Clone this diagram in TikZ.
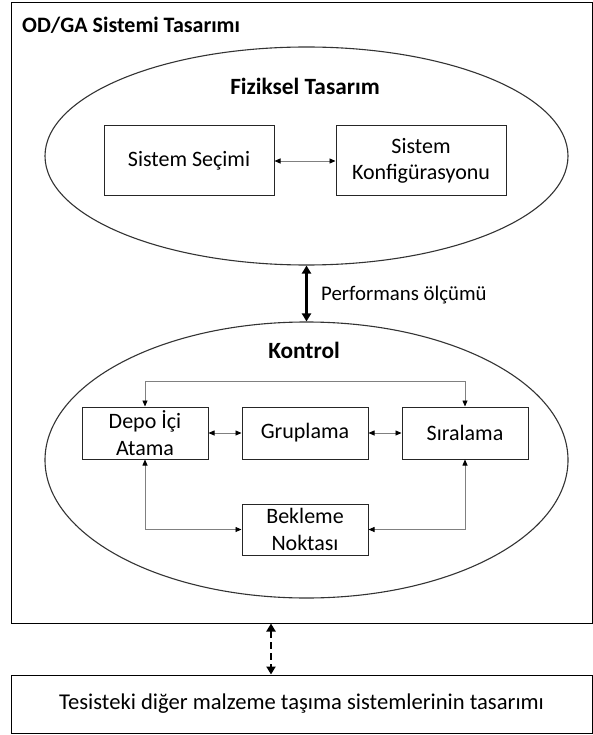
\documentclass[tikz,border=0pt]{standalone}
\usepackage{fontspec}
\setmainfont{Carlito}
\usetikzlibrary{shapes.geometric,arrows.meta,calc}
\tikzset{
  bx/.style={draw=black!85, line width=1pt, rectangle, minimum height=52pt, inner sep=1pt, align=center, font=\fontsize{22}{26.5}\selectfont},
  ell/.style={draw=black!80, line width=1.1pt, ellipse, inner sep=0pt, minimum width=523pt},
  conn/.style={draw=black!50, line width=0.8pt, {Triangle[length=6pt,width=5pt,fill=black,color=black]}-{Triangle[length=6pt,width=5pt,fill=black,color=black]}},
  bigarr/.style={line width=2.6pt, {Triangle[length=8pt,width=9pt]}-{Triangle[length=8pt,width=9pt]}},
  lbl/.style={inner sep=0pt, anchor=base},
  head/.style={lbl, font=\fontsize{23.3}{28}\selectfont\bfseries}
}
\begin{document}
\begin{tikzpicture}[x=1pt,y=-1pt]
\useasboundingbox (0,0) rectangle (593,735);
% outer frame
\node[draw, line width=1pt, minimum width=581pt, minimum height=620pt, inner sep=0pt] (outer) at (301.5,313) {};
\node[lbl, anchor=base west, font=\fontsize{22}{26}\selectfont\bfseries] (title) at (22,33) {OD/GA Sistemi Tasarımı};
% physical design ellipse
\node[ell, minimum height=218pt] (phys) at (306.5,156) {};
\node[head] (physt) at (305,95) {Fiziksel Tasarım};
\node[bx, minimum width=170pt, minimum height=70pt] (sec) at (189,161) {Sistem Seçimi};
\node[bx, minimum width=170pt, minimum height=70pt] (konf) at (421,161) {Sistem\\Konfigürasyonu};
\draw[conn] (sec.east) -- (konf.west);
% control ellipse
\node[ell, minimum height=276pt] (ctrl) at (306.5,460) {};
\node[head] (ctrlt) at (304,358) {Kontrol};
\node[bx, minimum width=126pt] (depo) at (145,433) {Depo İçi\\Atama};
\node[bx, minimum width=126pt] (grup) at (305,433) {Gruplama};
\node[bx, minimum width=126pt] (sira) at (465,433) {Sıralama};
\node[bx, minimum width=126pt, minimum height=51pt] (bek) at (305,529.5) {Bekleme\\Noktası};
\draw[conn] (depo.east) -- (grup.west);
\draw[conn] (grup.east) -- (sira.west);
\draw[conn] (depo.north) -- ++(0,-25) -| (sira.north);
\draw[conn] (depo.south) |- (bek.west);
\draw[conn] (sira.south) |- (bek.east);
% performance arrow
\draw[bigarr] (phys.south) -- (ctrl.north);
\node[lbl, anchor=base west, font=\fontsize{20.8}{25}\selectfont] (perf) at (321,300) {Performans ölçümü};
% bottom box
\node[draw, line width=1pt, minimum width=581pt, minimum height=58pt, inner sep=0pt, font=\fontsize{22.6}{27}\selectfont] (tes) at (301.5,704) {Tesisteki diğer malzeme taşıma sistemlerinin tasarımı};
\coordinate (dx) at (271,0);
\draw[bigarr, dashed, dash pattern=on 7pt off 4pt] (outer.south -| dx) -- (tes.north -| dx);
\end{tikzpicture}
\end{document}
